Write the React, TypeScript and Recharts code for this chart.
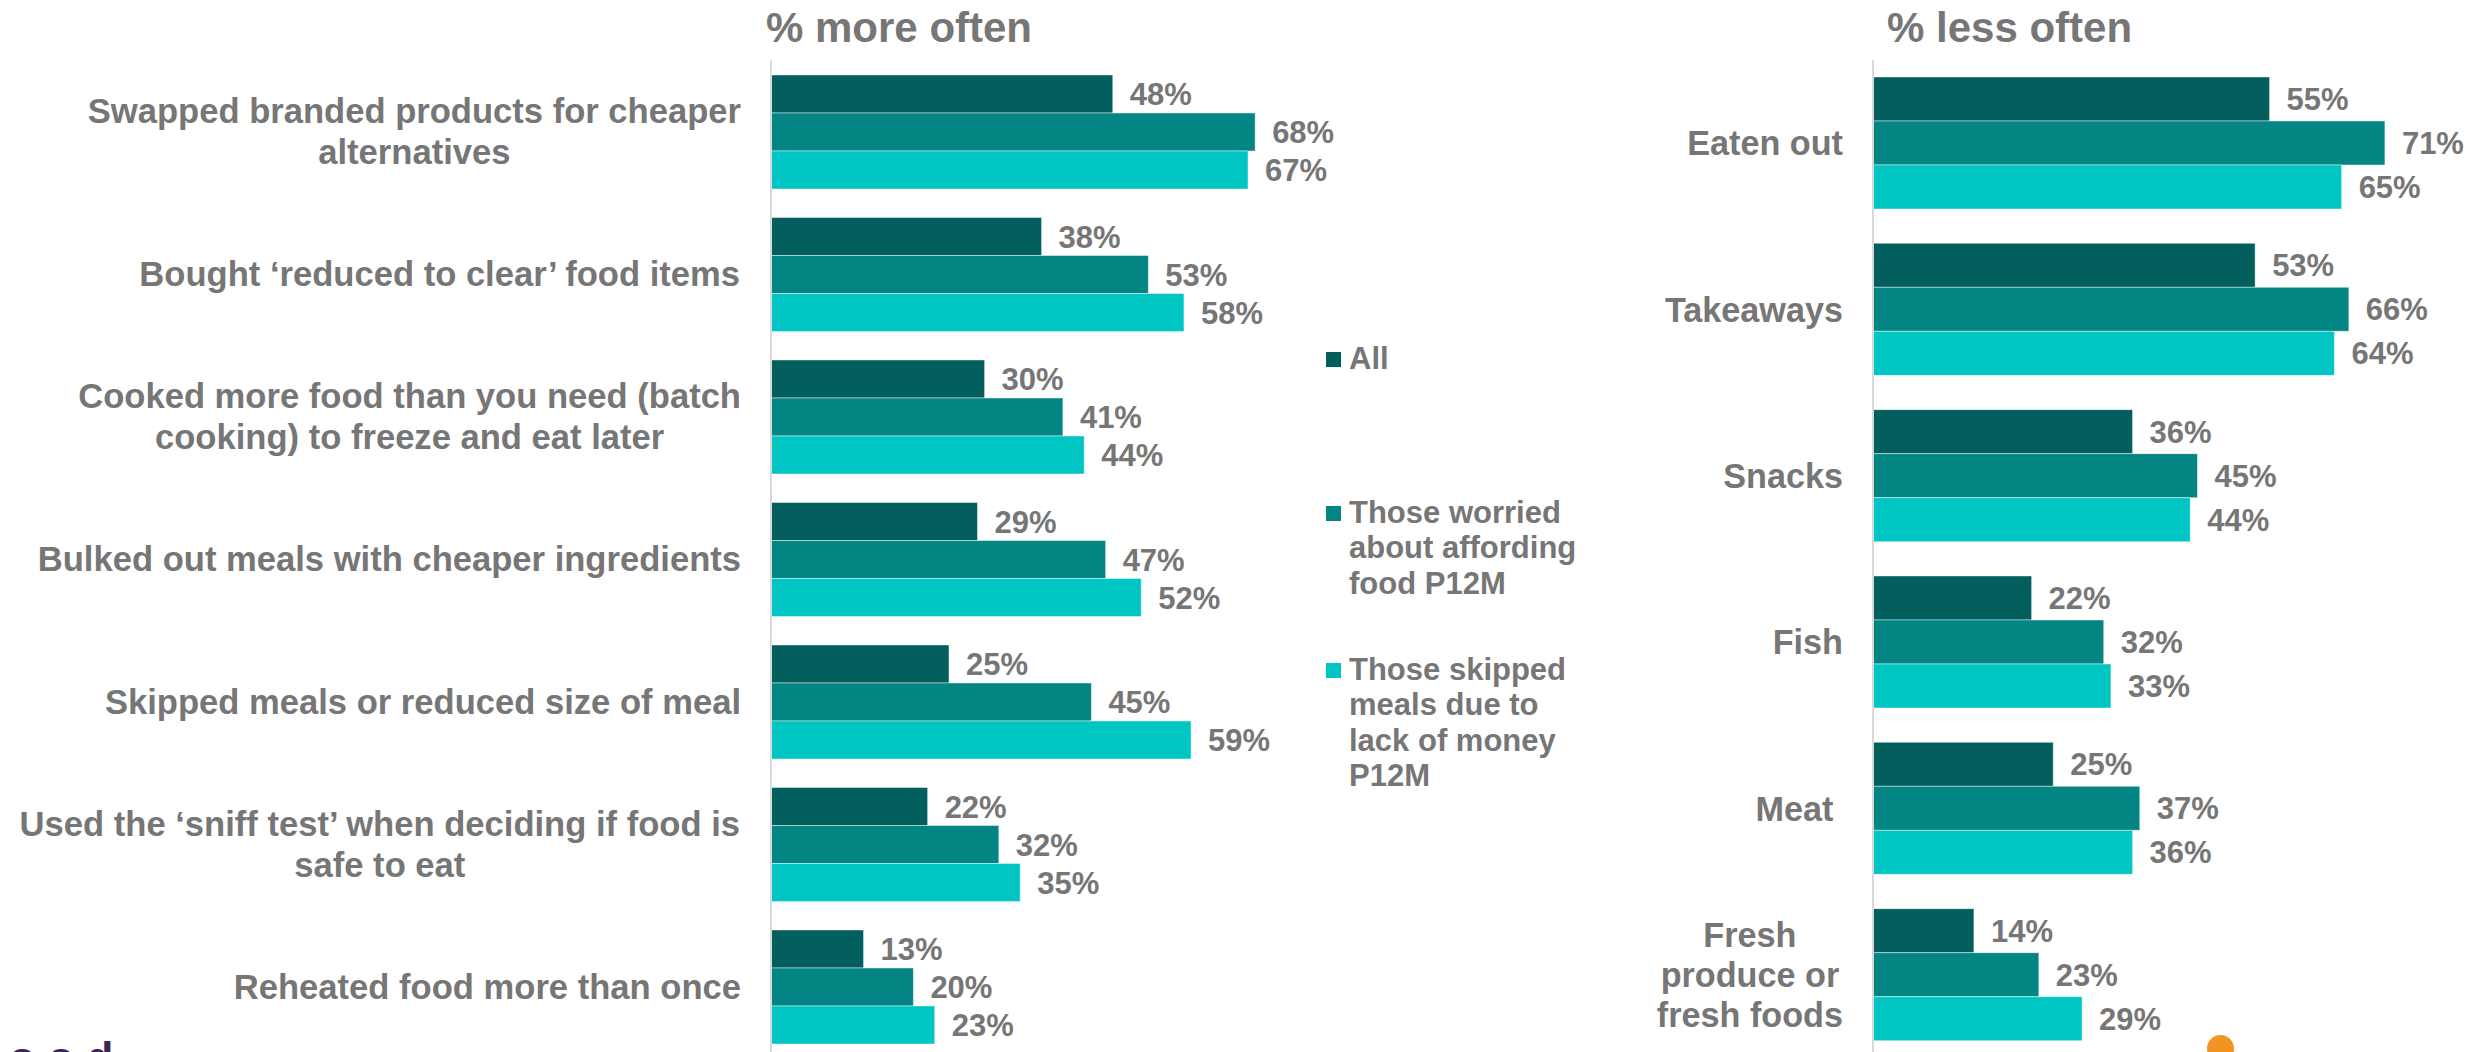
import React from 'react';
import { BarChart, Bar, XAxis, YAxis, LabelList } from 'recharts';

// ---- data ----
const moreCategories = [
  'Swapped branded products for cheaper\nalternatives',
  'Bought \u2018reduced to clear\u2019 food items',
  'Cooked more food than you need (batch\ncooking) to freeze and eat later',
  'Bulked out meals with cheaper ingredients',
  'Skipped meals or reduced size of meal',
  'Used the \u2018sniff test\u2019 when deciding if food is\nsafe to eat',
  'Reheated food more than once',
];
const moreAll = [48, 38, 30, 29, 25, 22, 13];
const moreWorried = [68, 53, 41, 47, 45, 32, 20];
const moreSkipped = [67, 58, 44, 52, 59, 35, 23];

const lessCategories = [
  'Eaten out',
  'Takeaways',
  'Snacks',
  'Fish',
  'Meat\u00a0',
  'Fresh\nproduce or\nfresh foods',
];
const lessAll = [55, 53, 36, 22, 25, 14];
const lessWorried = [71, 66, 45, 32, 37, 23];
const lessSkipped = [65, 64, 44, 33, 36, 29];

const seriesKeys = ['all', 'worried', 'skipped'];
const seriesLabels = [
  'All',
  'Those worried\nabout affording\nfood P12M',
  'Those skipped\nmeals due to\nlack of money\nP12M',
];
const seriesColors = ['#025F5D', '#038583', '#00C6C3'];

const moreTitle = '% more often';
const lessTitle = '% less often';

// ---- styling ----
const FONT = "'Liberation Sans', Arial, Helvetica, sans-serif";
const GREY = '#767676';
const VALUE_SIZE = 31;

const moreRows = moreCategories.map((name, i) => ({
  name,
  all: moreAll[i],
  worried: moreWorried[i],
  skipped: moreSkipped[i],
}));
const lessRows = lessCategories.map((name, i) => ({
  name,
  all: lessAll[i],
  worried: lessWorried[i],
  skipped: lessSkipped[i],
}));

let measureCtx: CanvasRenderingContext2D | null = null;
function textWidth(s: string, size: number): number {
  if (!measureCtx && typeof document !== 'undefined') {
    measureCtx = document.createElement('canvas').getContext('2d');
  }
  if (!measureCtx) return s.length * size * 0.55;
  measureCtx.font = `bold ${size}px ${FONT}`;
  return measureCtx.measureText(s).width;
}

// Multi-line category label: lines centred on each other, block right-aligned to the tick position
function CategoryTick(props: any) {
  const { x, y, payload, lineHeight, fontSize } = props;
  const lines = String(payload.value).split('\n');
  const block = Math.max(...lines.map((l) => textWidth(l, fontSize)));
  const cx = x - block / 2;
  const first = -((lines.length - 1) * lineHeight) / 2 + fontSize * 0.36;
  return (
    <text
      x={cx}
      y={y}
      textAnchor="middle"
      fill={GREY}
      fontFamily={FONT}
      fontWeight="bold"
      fontSize={fontSize}
    >
      {lines.map((l, i) => (
        <tspan key={i} x={cx} dy={i === 0 ? first : lineHeight}>
          {l}
        </tspan>
      ))}
    </text>
  );
}

const pct = (v: any) => `${v}%`;

function Panel(props: {
  rows: any[];
  axisWidth: number;
  plotWidth: number;
  plotHeight: number;
  max: number;
  gap: number;
  lineHeight: number;
  fontSize: number;
}) {
  const { rows, axisWidth, plotWidth, plotHeight, max, gap, lineHeight, fontSize } = props;
  const top = 60;
  const right = 30;
  return (
    <BarChart
      width={axisWidth + plotWidth + right}
      height={top + plotHeight}
      data={rows}
      layout="vertical"
      margin={{ top, right, bottom: 0, left: 0 }}
      barCategoryGap={gap}
      barGap={0}
    >
      <XAxis type="number" domain={[0, max]} hide />
      <YAxis
        type="category"
        dataKey="name"
        width={axisWidth}
        axisLine={{ stroke: '#D9D9D9', strokeWidth: 2 }}
        tickLine={false}
        tickSize={0}
        tickMargin={30}
        interval={0}
        tick={<CategoryTick lineHeight={lineHeight} fontSize={fontSize} />}
      />
      {seriesKeys.map((k, i) => (
        <Bar
          key={k}
          dataKey={k}
          fill={seriesColors[i]}
          stroke="rgba(255,255,255,0.45)"
          strokeWidth={1}
          isAnimationActive={false}
        >
          <LabelList
            dataKey={k}
            position="right"
            offset={17}
            formatter={pct}
            fill={GREY}
            fontSize={VALUE_SIZE}
            fontWeight="bold"
            fontFamily={FONT}
          />
        </Bar>
      ))}
    </BarChart>
  );
}

const titleStyle: React.CSSProperties = {
  position: 'absolute',
  top: 3,
  fontFamily: FONT,
  fontWeight: 'bold',
  fontSize: 42,
  lineHeight: '50px',
  color: GREY,
  whiteSpace: 'nowrap',
};

export default function App() {
  return (
    <div
      style={{
        position: 'absolute',
        left: 0,
        top: 0,
        width: 2474,
        height: 1052,
        overflow: 'hidden',
        background: '#ffffff',
      }}
    >
      <div style={{ ...titleStyle, left: 766 }}>{moreTitle}</div>
      <div style={{ ...titleStyle, left: 1887 }}>{lessTitle}</div>

      <div style={{ position: 'absolute', left: 0, top: 0 }}>
        <Panel
          rows={moreRows}
          axisWidth={771}
          plotWidth={80 * 7.12}
          plotHeight={997.5}
          max={80}
          gap={15}
          lineHeight={41}
          fontSize={34.6}
        />
      </div>

      <div style={{ position: 'absolute', left: 1500, top: 0 }}>
        <Panel
          rows={lessRows}
          axisWidth={373}
          plotWidth={80 * 7.21}
          plotHeight={998}
          max={80}
          gap={17}
          lineHeight={40}
          fontSize={34.2}
        />
      </div>

      {/* legend */}
      {seriesLabels.map((label, i) => {
        const baselines = [369, 523, 680];
        const b = baselines[i];
        return (
          <React.Fragment key={label}>
            <div
              style={{
                position: 'absolute',
                left: 1326,
                top: b - 17,
                width: 15,
                height: 15,
                background: seriesColors[i],
              }}
            />
            <div
              style={{
                position: 'absolute',
                left: 1349,
                top: b - 28.5,
                fontFamily: FONT,
                fontWeight: 'bold',
                fontSize: 31,
                lineHeight: '35.5px',
                color: GREY,
                whiteSpace: 'pre',
              }}
            >
              {label}
            </div>
          </React.Fragment>
        );
      })}

      {/* brand mark along the bottom edge */}
      <div
        style={{
          position: 'absolute',
          left: -18,
          top: 1036,
          fontFamily: FONT,
          fontWeight: 'bold',
          fontSize: 44,
          lineHeight: '44px',
          letterSpacing: 12,
          color: '#3C2556',
          whiteSpace: 'nowrap',
        }}
      >
        food
      </div>
      <div
        style={{
          position: 'absolute',
          left: 2207,
          top: 1035,
          width: 27,
          height: 27,
          borderRadius: '50%',
          background: '#F39322',
        }}
      />
    </div>
  );
}
